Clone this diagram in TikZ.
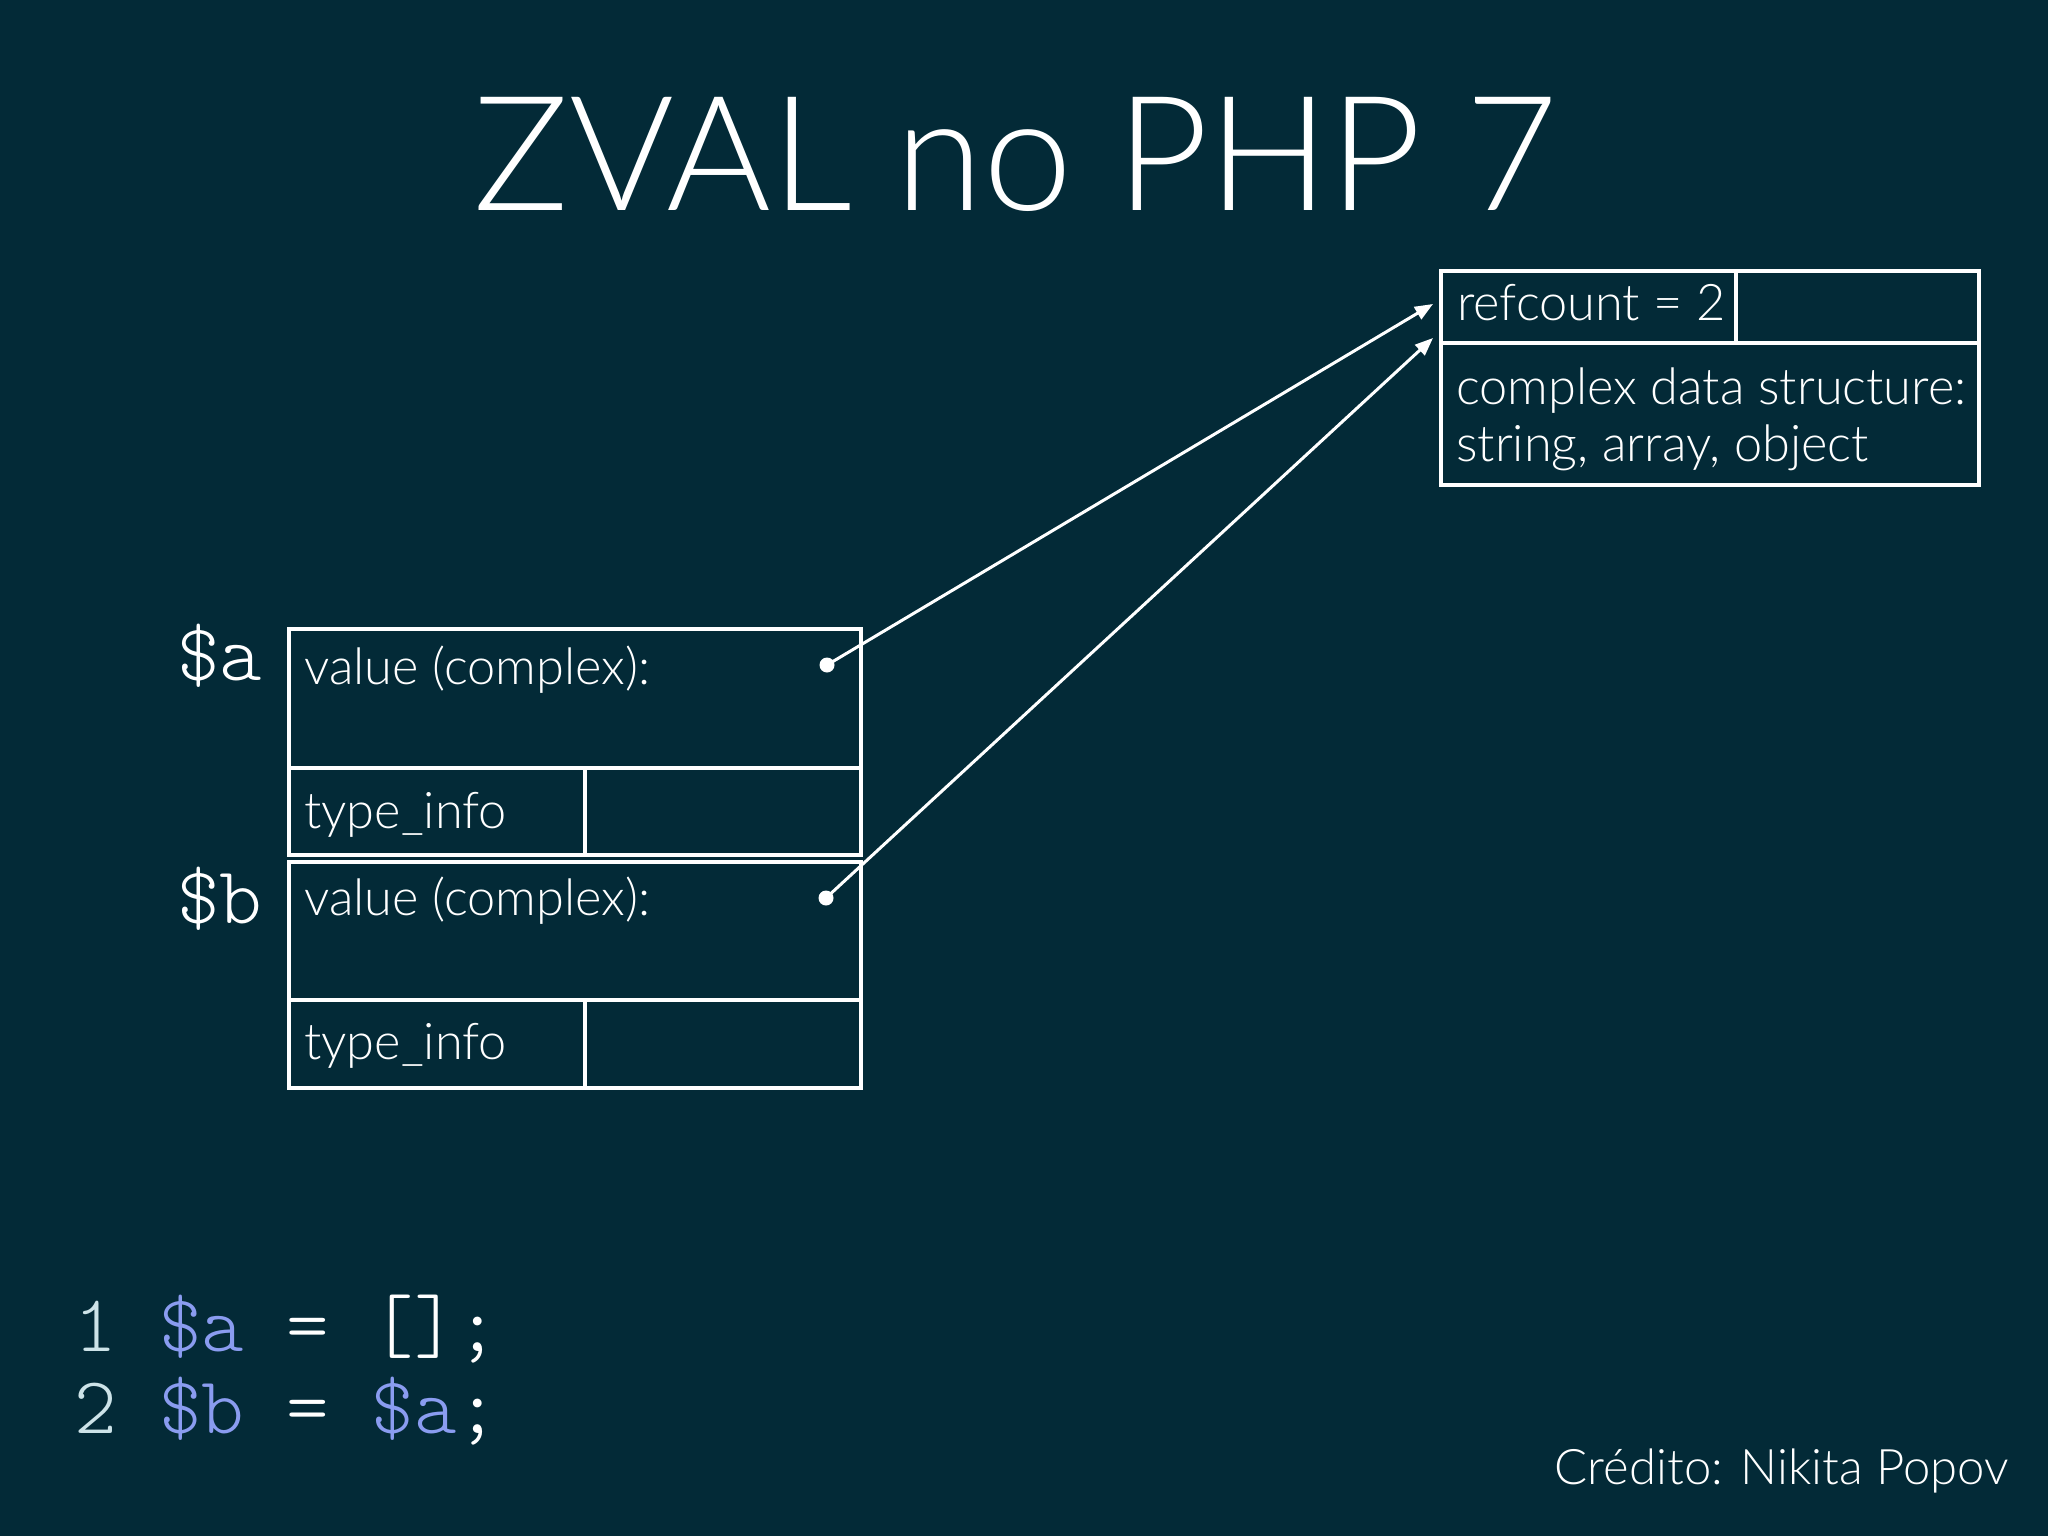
\documentclass[tikz,border=0pt]{standalone}
\usepackage{fontspec}
\setmainfont{Lato}[UprightFont=* Light]
\newfontfamily\codefont{lmmonolt10-regular.otf}
\usetikzlibrary{arrows.meta}
\definecolor{bg}{HTML}{032A37}
\definecolor{codeblue}{HTML}{8A9CF0}
\definecolor{numgray}{HTML}{CDE3E8}
\begin{document}
\begin{tikzpicture}[x=1pt,y=-1pt,
  cell/.style={draw=white, line width=3.5pt, anchor=north west, inner sep=0pt, outer sep=0pt},
  txt/.style={text=white, anchor=base west, inner sep=0pt, font=\fontsize{50.5}{60}\selectfont},
  code/.style={anchor=base west, inner sep=0pt, text=white, font=\codefont\fontsize{81}{81}\selectfont},
  link/.style={draw=white, line width=3pt, -{Triangle[length=18pt,width=14pt]}},
  dotnode/.style={circle, fill=white, minimum size=15pt, inner sep=0pt}]
\fill[bg] (0,0) rectangle (2048,1536);
\useasboundingbox (0,0) rectangle (2048,1536);

% title
\node[text=white, anchor=base, inner sep=0pt, font=\fontsize{160}{160}\selectfont] (title) at (1016,210) {ZVAL no PHP 7};

% refcount structure
\node[cell, minimum width=295pt, minimum height=72pt] (rcl) at (1441,271) {};
\node[cell, minimum width=243pt, minimum height=72pt] (rcr) at (1736,271) {};
\node[cell, minimum width=538pt, minimum height=142pt] (cds) at (1441,343) {};
\node[txt] (rctext) at (1457,320) {refcount = 2};
\node[txt] (cds1) at (1456,404) {complex data structure:};
\node[txt] (cds2) at (1456,461) {string, array, object};

% zval a
\node[cell, minimum width=572pt, minimum height=139pt] (aval) at (289,629) {};
\node[cell, minimum width=296pt, minimum height=87pt] (atl) at (289,768) {};
\node[cell, minimum width=276pt, minimum height=87pt] (atr) at (585,768) {};
\node[txt] (avaltext) at (304,684) {value (complex):};
\node[txt] (atypetext) at (304,828) {type\_info};

% zval b
\node[cell, minimum width=572pt, minimum height=138pt] (bval) at (289,862) {};
\node[cell, minimum width=296pt, minimum height=88pt] (btl) at (289,1000) {};
\node[cell, minimum width=276pt, minimum height=88pt] (btr) at (585,1000) {};
\node[txt] (bvaltext) at (304,915) {value (complex):};
\node[txt] (btypetext) at (304,1059) {type\_info};

% variable labels
\node[code] (alabel) at (177,680) {\$a};
\node[code] (blabel) at (177,923) {\$b};

% pointers
\node[dotnode] (adot) at (827,665) {};
\node[dotnode] (bdot) at (826,898) {};
\coordinate (ta) at (1433,304);
\coordinate (tb) at (1433,338);
\draw[link] (adot.center) -- (ta);
\draw[link] (bdot.center) -- (tb);

% code
\node[code] (line1) at (74,1351) {{\color{numgray}1} {\color{codeblue}\$a} = [];};
\node[code] (line2) at (74,1433) {{\color{numgray}2} {\color{codeblue}\$b} = {\color{codeblue}\$a};};

% credit
\node[txt, anchor=base east, font=\fontsize{49}{58}\selectfont] (credit) at (2009,1484) {Crédito: Nikita Popov};
\end{tikzpicture}
\end{document}
